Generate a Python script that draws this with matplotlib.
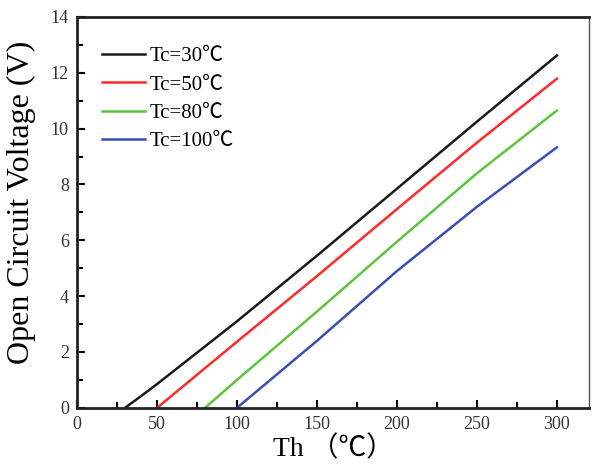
import matplotlib
matplotlib.use("Agg")
import matplotlib.pyplot as plt
from matplotlib.ticker import MultipleLocator

plt.rcParams['font.family'] = ['Liberation Serif', 'Noto Sans CJK SC', 'DejaVu Sans']

# Data
th_30 = [30, 40, 50, 100, 150, 200, 250, 300]
v_30 = [0.0, 0.42, 0.85, 3.10, 5.45, 7.85, 10.25, 12.62]

th_50 = [50, 100, 150, 200, 250, 300]
v_50 = [0.0, 2.37, 4.72, 7.12, 9.50, 11.79]

th_80 = [80, 100, 150, 200, 250, 300]
v_80 = [0.0, 1.00, 3.45, 5.95, 8.40, 10.65]

th_100 = [100, 150, 200, 250, 300]
v_100 = [0.0, 2.40, 4.90, 7.20, 9.33]

labels = ['Tc=30℃', 'Tc=50℃', 'Tc=80℃', 'Tc=100℃']
colors = ['#1a1a1a', '#ff2a2a', '#5ec43a', '#3a4fb5']

fig = plt.figure(figsize=(5.93, 4.72), dpi=100)
ax = fig.add_axes([0.130, 0.136, 0.863, 0.828])

series = [(th_30, v_30), (th_50, v_50), (th_80, v_80), (th_100, v_100)]
for (x, y), lab, c in zip(series, labels, colors):
    ax.plot(x, y, color=c, lw=1.8, label=lab)

ax.set_xlim(0, 320)
ax.set_ylim(0, 14)
ax.xaxis.set_major_locator(MultipleLocator(50))
ax.xaxis.set_minor_locator(MultipleLocator(25))
ax.yaxis.set_major_locator(MultipleLocator(2))
ax.yaxis.set_minor_locator(MultipleLocator(1))

ax.tick_params(which='both', direction='in', top=False, right=False,
               labelsize=13, labelcolor='#333333', width=1.5)
ax.tick_params(which='major', length=6, pad=6)
ax.tick_params(which='minor', length=4)

for side in ['left', 'bottom', 'top']:
    ax.spines[side].set_linewidth(2.0)
    ax.spines[side].set_color('#222222')
ax.spines['right'].set_linewidth(1.0)
ax.spines['right'].set_color('#555555')

ax.set_xlabel('Th （℃）', fontsize=20, labelpad=2)
ax.set_ylabel('Open Circuit Voltage (V)', fontsize=23)
ax.yaxis.set_label_coords(-0.08, 0.525)

leg = ax.legend(loc='upper left', frameon=False, fontsize=15,
                handlelength=2.05, handletextpad=0.2, labelspacing=0.42,
                bbox_to_anchor=(0.033, 0.945), borderaxespad=0.0)

fig.savefig('out.png', dpi=100)
